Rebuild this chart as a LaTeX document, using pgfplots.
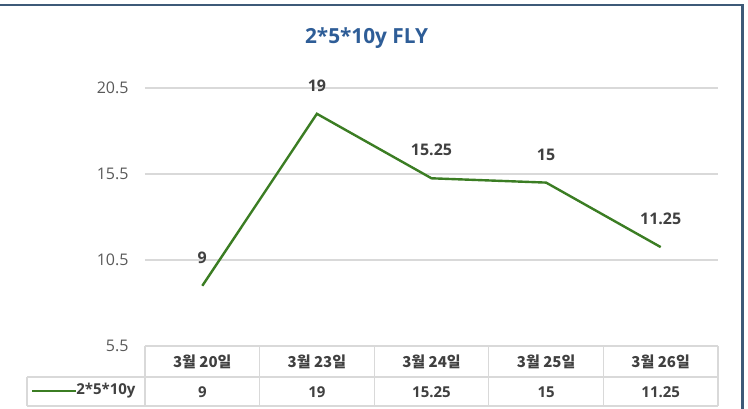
\documentclass[border=0pt]{standalone}
\usepackage{pgfplots}
\pgfplotsset{compat=1.18}
\usepackage{fontspec}
\setmainfont{Open Sans}
\newfontfamily\kr{Noto Sans CJK KR}
\definecolor{lgreen}{HTML}{3B7D23}
\definecolor{tblue}{HTML}{2E5D97}
\definecolor{lbl}{HTML}{404040}
\definecolor{tck}{HTML}{595959}
\definecolor{gridc}{HTML}{D9D9D9}
\definecolor{brd}{HTML}{3D5A78}
\begin{document}
\begin{tikzpicture}
\path[use as bounding box] (0pt,0pt) rectangle (748pt,409pt);
% outer frame (top and right edges visible)
\draw[brd, line width=2.5pt] (0pt,404pt) -- (742.5pt,404pt) -- (742.5pt,0pt);
% title
\node[font=\fontsize{20.8}{24}\selectfont\bfseries, text=tblue] at (366.5pt,371pt) {2*5*10y FLY};
\begin{axis}[
  at={(145pt,63pt)}, anchor=south west,
  width=573pt, height=258pt, scale only axis,
  xmin=-0.5, xmax=4.5, ymin=5.5, ymax=20.5,
  ytick={5.5,10.5,15.5,20.5},
  yticklabels={5.5,10.5,15.5,20.5},
  xtick={0,1,2,3,4},
  xticklabels={3월 20일,3월 23일,3월 24일,3월 25일,3월 26일},
  xticklabel style={font=\kr\fontsize{15}{18}\selectfont\bfseries, text=lbl, anchor=center, yshift=-16pt},
  yticklabel style={font=\fontsize{16}{19}\selectfont, text=tck, anchor=east, xshift=-13pt},
  major tick length=0pt,
  axis line style={draw=none},
  ymajorgrids, grid style={gridc, line width=1.3pt},
  /pgf/number format/assume math mode=true,
  clip=false,
]
\addplot[lgreen, line width=2.4pt, mark=none,
  nodes near coords={\pgfmathprintnumber[fixed,precision=2]{\pgfplotspointmeta}},
  every node near coord/.append style={font=\fontsize{16}{19}\selectfont\bfseries, text=lbl, anchor=center, yshift=28pt}]
  coordinates {(0,9) (1,19) (2,15.25) (3,15) (4,11.25)};
% values row of the data table
\foreach \i/\v in {0/9,1/19,2/15.25,3/15,4/11.25} {
  \edef\tmp{\noexpand\node[font=\noexpand\fontsize{15}{18}\noexpand\selectfont\noexpand\bfseries, text=lbl, anchor=center] at (axis cs:\i,5.5) [yshift=-46pt] {\v};}
  \tmp
}
\end{axis}
% data table grid
\begin{scope}[gridc, line width=1.3pt]
\draw (145pt,63pt) -- (718pt,63pt);
\draw (27pt,32pt) -- (718pt,32pt);
\draw (27pt,3pt) -- (718pt,3pt);
\draw (27pt,3pt) -- (27pt,32pt);
\foreach \x in {145,259.6,374.2,488.8,603.4,718} { \draw (\x pt,3pt) -- (\x pt,63pt); }
\end{scope}
% legend key
\draw[lgreen, line width=2.4pt] (32pt,18pt) -- (76pt,18pt);
\node[font=\fontsize{15}{18}\selectfont\bfseries, text=lbl, anchor=east] at (139pt,18pt) {2*5*10y};
\end{tikzpicture}
\end{document}
